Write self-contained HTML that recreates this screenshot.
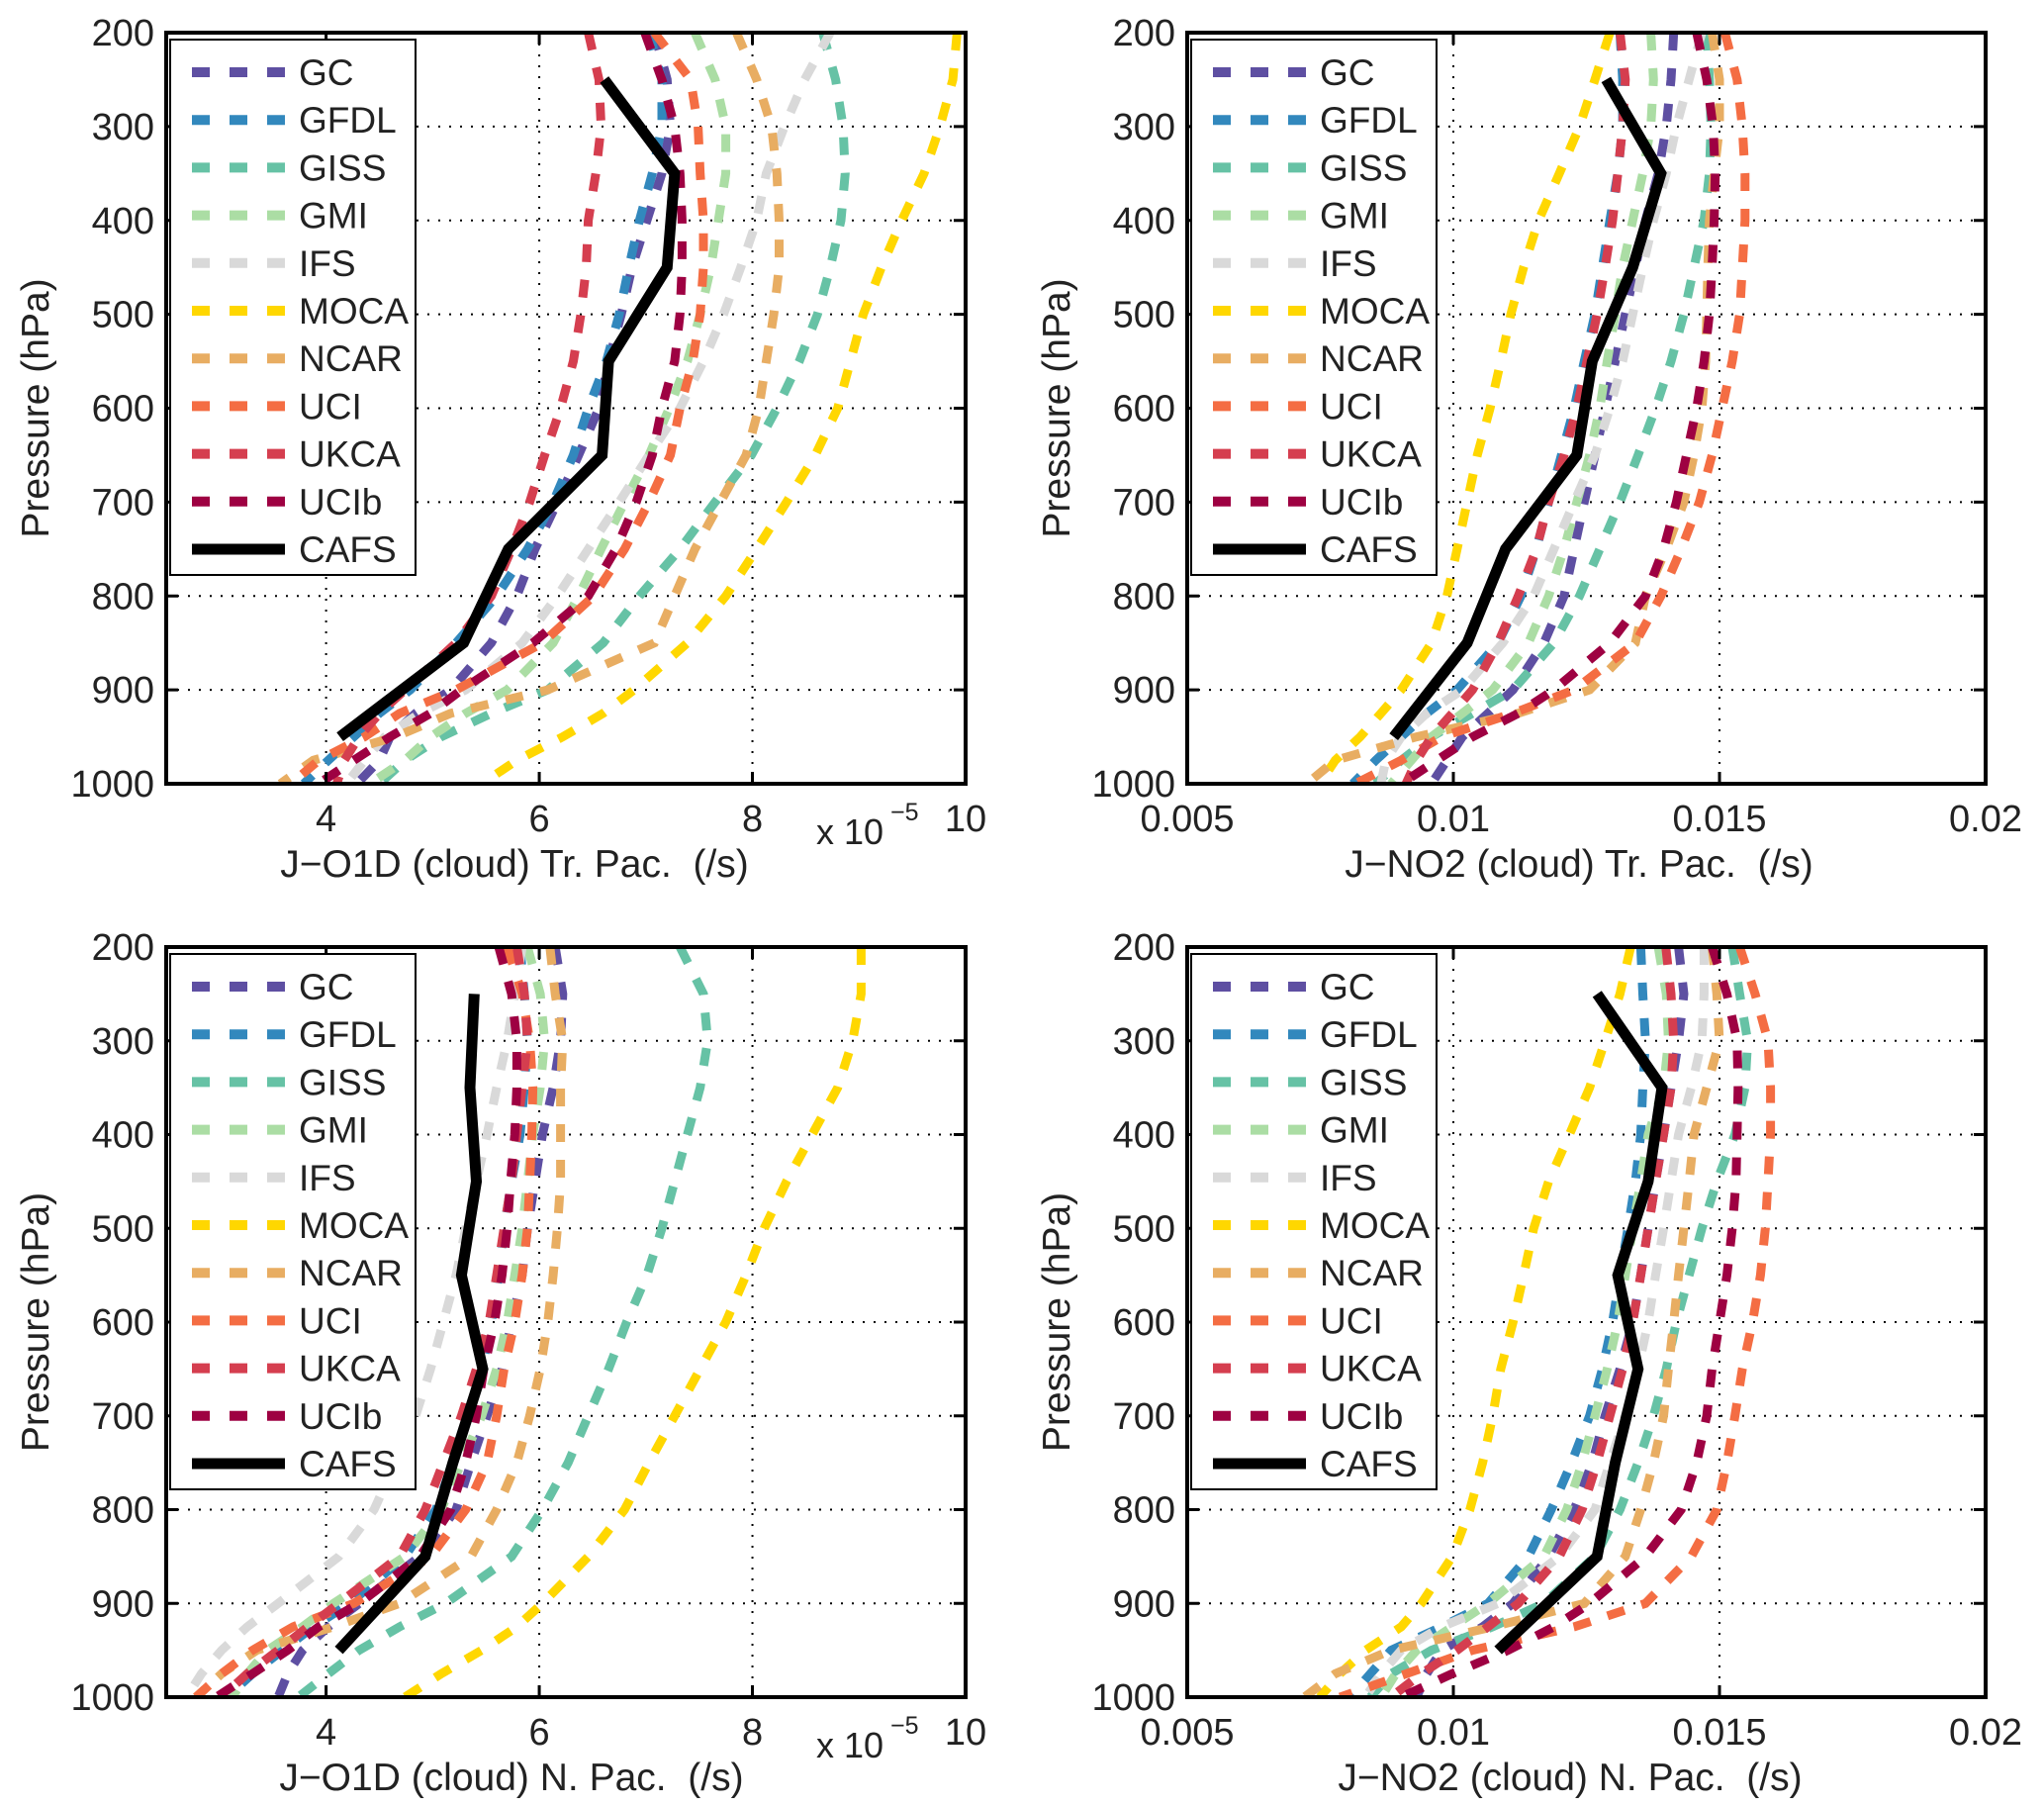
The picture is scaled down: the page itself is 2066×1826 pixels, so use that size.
<!DOCTYPE html>
<html><head><meta charset="utf-8">
<style>
html,body{margin:0;padding:0;background:#fff;}
svg{display:block;font-family:"Liberation Sans",Arial,sans-serif;}
</style></head>
<body>
<svg id="fig" width="2066" height="1826" viewBox="0 0 2066 1826" xmlns="http://www.w3.org/2000/svg"></svg>
<script>
const pressure = [200,250,300,350,400,450,500,550,600,650,700,750,800,850,900,925,950,975,1000];
const cafsP = [250,350,450,550,650,750,850,950];
const yTicks = [200,300,400,500,600,700,800,900,1000];
const o1dTicks = [4,6,8,10];
const no2Ticks = [0.005,0.01,0.015,0.02];
const no2TickLabels = ["0.005","0.01","0.015","0.02"];
const models = ["GC","GFDL","GISS","GMI","IFS","MOCA","NCAR","UCI","UKCA","UCIb"];
const colors = ["#5e4fa2","#3288bd","#66c2a5","#abdda4","#d9d9d9","#ffd700","#e8ad62","#f46d43","#d53e4f","#9e0142"];

const o1dTr_GC   = [7.08,7.20,7.23,7.15,7.01,6.87,6.77,6.65,6.56,6.37,6.17,5.96,5.79,5.55,5.17,4.84,4.60,4.50,4.29];
const o1dTr_GFDL = [7.03,7.15,7.15,7.06,6.94,6.84,6.75,6.63,6.46,6.32,6.13,5.89,5.60,5.22,4.79,4.50,4.26,4.02,3.79];
const o1dTr_GISS = [8.66,8.78,8.85,8.87,8.83,8.73,8.61,8.44,8.23,7.99,7.65,7.32,6.94,6.60,6.08,5.55,5.08,4.74,4.50];
const o1dTr_GMI  = [7.46,7.65,7.75,7.75,7.68,7.61,7.51,7.39,7.22,7.03,6.80,6.58,6.37,6.13,5.70,5.31,4.98,4.74,4.41];
const o1dTr_IFS  = [8.73,8.49,8.30,8.13,8.04,7.89,7.73,7.54,7.32,7.03,6.75,6.46,6.17,5.84,5.31,4.88,4.55,4.36,4.19];
const o1dTr_MOCA = [9.92,9.88,9.76,9.61,9.40,9.21,9.04,8.92,8.80,8.59,8.32,8.04,7.75,7.39,6.89,6.60,6.22,5.79,5.46];
const o1dTr_NCAR = [7.85,8.04,8.18,8.23,8.25,8.25,8.20,8.13,8.06,7.94,7.70,7.46,7.27,7.08,6.08,5.17,4.65,3.88,3.57];
const o1dTr_UCI  = [7.08,7.42,7.49,7.51,7.54,7.54,7.51,7.44,7.32,7.23,7.03,6.80,6.51,6.03,5.22,4.69,4.36,3.93,3.67];
const o1dTr_UKCA = [6.46,6.56,6.58,6.53,6.46,6.44,6.39,6.32,6.20,6.05,5.91,5.74,5.55,5.22,4.74,4.50,4.31,4.17,4.10];
const o1dTr_UCIb = [6.99,7.15,7.27,7.32,7.34,7.34,7.32,7.27,7.15,7.06,6.91,6.72,6.46,5.94,5.27,4.98,4.60,4.26,3.93];
const o1dTr_CAFS = [6.61,7.27,7.20,6.65,6.59,5.71,5.29,4.13];

const no2Tr_GC   = [14.14,14.09,14.00,13.85,13.61,13.42,13.23,13.04,12.85,12.66,12.46,12.27,12.08,11.70,11.12,10.65,10.17,9.88,9.59];
const no2Tr_GFDL = [13.13,13.18,13.18,13.09,12.94,12.80,12.66,12.46,12.27,12.03,11.79,11.56,11.27,10.84,10.07,9.50,9.02,8.54,8.11];
const no2Tr_GISS = [14.76,14.81,14.84,14.81,14.71,14.52,14.33,14.09,13.80,13.47,13.13,12.75,12.37,11.89,11.12,10.36,9.59,9.02,8.54];
const no2Tr_GMI  = [13.71,13.76,13.71,13.56,13.37,13.18,13.04,12.89,12.75,12.56,12.32,12.08,11.79,11.41,10.74,10.17,9.59,9.21,8.83];
const no2Tr_IFS  = [14.67,14.43,14.19,14.00,13.76,13.56,13.37,13.18,12.94,12.66,12.27,11.89,11.51,10.93,10.17,9.50,9.02,8.73,8.64];
const no2Tr_MOCA = [12.94,12.66,12.37,11.99,11.60,11.32,11.08,10.89,10.69,10.45,10.26,10.07,9.88,9.59,9.02,8.64,8.25,7.78,7.49];
const no2Tr_NCAR = [14.86,15.00,15.00,14.90,14.81,14.78,14.76,14.74,14.67,14.52,14.33,14.00,13.61,13.42,12.56,11.22,9.31,7.78,7.25];
const no2Tr_UCI  = [15.10,15.33,15.43,15.48,15.48,15.43,15.38,15.24,15.05,14.86,14.62,14.28,13.90,13.42,12.27,11.12,9.78,9.02,8.16];
const no2Tr_UKCA = [13.13,13.23,13.18,13.09,12.99,12.85,12.70,12.51,12.32,12.08,11.79,11.56,11.22,10.84,10.36,9.98,9.59,9.31,9.11];
const no2Tr_UCIb = [14.57,14.76,14.88,14.92,14.90,14.86,14.81,14.71,14.57,14.38,14.19,13.95,13.61,12.94,11.89,11.22,10.36,9.69,9.02];
const no2Tr_CAFS = [12.87,13.90,13.37,12.61,12.32,10.98,10.26,8.88];

const o1dN_GC   = [6.15,6.22,6.20,6.13,6.03,5.96,5.89,5.84,5.74,5.65,5.51,5.36,5.22,4.88,4.31,4.02,3.78,3.64,3.55];
const o1dN_GFDL = [5.82,5.86,5.89,5.86,5.82,5.74,5.67,5.62,5.55,5.46,5.34,5.19,5.03,4.74,4.22,3.88,3.59,3.31,3.07];
const o1dN_GISS = [7.32,7.54,7.58,7.51,7.39,7.27,7.15,7.01,6.82,6.65,6.46,6.27,6.03,5.74,5.12,4.69,4.31,4.02,3.74];
const o1dN_GMI  = [5.89,6.01,6.05,6.01,5.94,5.89,5.84,5.77,5.70,5.60,5.46,5.27,5.08,4.74,4.07,3.78,3.45,3.26,3.12];
const o1dN_IFS  = [5.84,5.77,5.70,5.60,5.51,5.41,5.31,5.22,5.10,4.98,4.84,4.65,4.45,4.12,3.55,3.26,3.02,2.83,2.69];
const o1dN_MOCA = [9.02,9.02,8.94,8.80,8.56,8.32,8.11,7.94,7.75,7.51,7.27,7.03,6.80,6.46,6.03,5.79,5.46,5.08,4.74];
const o1dN_NCAR = [6.10,6.15,6.22,6.20,6.20,6.20,6.17,6.13,6.08,6.01,5.91,5.79,5.60,5.36,4.69,4.07,3.35,3.02,2.78];
const o1dN_UCI  = [5.70,5.84,5.91,5.94,5.93,5.91,5.89,5.84,5.77,5.67,5.60,5.51,5.31,4.98,4.26,3.69,3.31,3.02,2.78];
const o1dN_UKCA = [5.79,5.86,5.89,5.84,5.79,5.74,5.67,5.60,5.53,5.41,5.27,5.10,4.93,4.69,4.12,3.83,3.55,3.26,3.02];
const o1dN_UCIb = [5.62,5.74,5.79,5.79,5.77,5.73,5.70,5.65,5.58,5.48,5.41,5.31,5.17,4.88,4.31,3.93,3.64,3.31,2.97];
const o1dN_CAFS = [5.39,5.35,5.41,5.27,5.47,5.19,4.93,4.12];

const no2N_GC   = [14.23,14.33,14.23,14.09,13.95,13.80,13.66,13.52,13.37,13.13,12.85,12.61,12.27,11.79,11.12,10.55,9.78,9.50,9.31];
const no2N_GFDL = [13.52,13.56,13.61,13.56,13.52,13.42,13.28,13.13,12.99,12.80,12.56,12.22,11.84,11.41,10.65,9.78,8.83,8.44,8.06];
const no2N_GISS = [15.24,15.38,15.53,15.48,15.29,14.95,14.67,14.43,14.19,14.00,13.76,13.47,13.13,12.66,11.70,10.74,9.59,8.83,8.44];
const no2N_GMI  = [13.85,14.00,14.04,13.95,13.66,13.52,13.37,13.23,13.09,12.89,12.66,12.42,12.13,11.70,10.65,9.98,9.31,8.92,8.64];
const no2N_IFS  = [14.71,14.71,14.67,14.47,14.23,14.09,13.95,13.80,13.66,13.47,13.23,12.94,12.66,11.99,10.84,9.78,9.02,8.64,8.35];
const no2N_MOCA = [13.33,13.13,12.85,12.56,12.18,11.79,11.51,11.32,11.12,10.89,10.74,10.55,10.31,9.98,9.40,9.02,8.35,7.87,7.49];
const no2N_NCAR = [14.86,14.95,15.00,14.76,14.52,14.43,14.33,14.23,14.14,14.04,13.95,13.76,13.52,13.23,12.46,10.74,8.83,7.78,7.20];
const no2N_UCI  = [15.38,15.67,15.91,15.96,15.96,15.91,15.86,15.77,15.62,15.43,15.29,15.14,14.95,14.47,13.61,12.27,10.36,9.12,7.87];
const no2N_UKCA = [13.99,14.09,14.14,14.09,13.95,13.80,13.66,13.52,13.37,13.18,12.94,12.70,12.42,11.99,11.22,10.65,10.07,9.40,8.83];
const no2N_UCIb = [14.86,15.14,15.33,15.35,15.33,15.31,15.24,15.14,15.00,14.86,14.76,14.57,14.28,13.61,12.56,11.89,11.03,9.98,9.02];
const no2N_CAFS = [12.70,13.92,13.66,13.09,13.47,13.04,12.70,10.84];

const NS = "http://www.w3.org/2000/svg";
const svg = document.getElementById("fig");
function mk(tag, attrs, parent){
  const e = document.createElementNS(NS, tag);
  for (const k in attrs) e.setAttribute(k, attrs[k]);
  (parent||svg).appendChild(e);
  return e;
}

function panel(opt){
  const L=opt.left, T=opt.top, W=opt.w, H=opt.h, R=L+W, B=T+H;
  const g = mk("g",{});
  
  
  const xs = v => L + (v - opt.xmin)/(opt.xmax-opt.xmin)*W;
  const ys = p => T + (p - 200)/800*H;
  const grid = mk("g",{},g);
  
  
  opt.xticks.forEach(t=>{
    const x = xs(t);
    if (x>L+3 && x<R-3) mk("line",{x1:x,y1:T,x2:x,y2:B,stroke:"#000","stroke-width":2,"stroke-dasharray":"2 9"},grid);
  });
  yTicks.forEach(p=>{
    const y = ys(p);
    if (y>T+3 && y<B-3) mk("line",{x1:L,y1:y,x2:R,y2:y,stroke:"#000","stroke-width":2,"stroke-dasharray":"2 9"},grid);
  });
  const cid = "clip"+opt.name;
  const cp = mk("clipPath",{id:cid},g);
  mk("rect",{x:L,y:T,width:W,height:H},cp);
  const sg = mk("g",{"clip-path":"url(#"+cid+")"},g);
  opt.series.forEach((arr,i)=>{
    const d = arr.map((v,j)=>(j?"L":"M")+xs(v*opt.scale).toFixed(1)+","+ys(pressure[j]).toFixed(1)).join(" ");
    const path = mk("path",{d:d,fill:"none",stroke:colors[i],"stroke-width":9,"stroke-dasharray":"18 18"},sg);
    
    
  });
  const dc = opt.cafs.map((v,j)=>(j?"L":"M")+xs(v*opt.scale).toFixed(1)+","+ys(cafsP[j]).toFixed(1)).join(" ");
  const cafsPath = mk("path",{d:dc,fill:"none",stroke:"#000","stroke-width":11,"stroke-linejoin":"miter"},sg);
  
  
  const fr = mk("rect",{x:L,y:T,width:W,height:H,fill:"none",stroke:"#000","stroke-width":4},g);
  
  
  opt.xticks.forEach((t,i)=>{
    const x = xs(t);
    mk("line",{x1:x,y1:B,x2:x,y2:B-12,stroke:"#000","stroke-width":3},g);
    mk("line",{x1:x,y1:T,x2:x,y2:T+12,stroke:"#000","stroke-width":3},g);
    const tx = mk("text",{x:x,y:B+48,"font-size":38,"text-anchor":"middle",fill:"#222"},g);
    tx.textContent = opt.xlabels[i];
    
    
  });
  yTicks.forEach(p=>{
    const y = ys(p);
    mk("line",{x1:L,y1:y,x2:L+12,y2:y,stroke:"#000","stroke-width":3},g);
    mk("line",{x1:R,y1:y,x2:R-12,y2:y,stroke:"#000","stroke-width":3},g);
    const tx = mk("text",{x:L-12,y:y+13,"font-size":38,"text-anchor":"end",fill:"#222"},g);
    tx.textContent = p;
    
    
  });
  const xt = mk("text",{x:opt.titleX,y:B+94,"font-size":39,"text-anchor":"middle",fill:"#222"},g);
  xt.textContent = opt.xtitle;
  
  
  const yl = mk("text",{x:0,y:0,"font-size":39,"text-anchor":"middle",fill:"#222",transform:"translate("+(L-119)+","+(T+H/2)+") rotate(-90)"},g);
  yl.textContent = "Pressure (hPa)";
  
  
  if (opt.exp){
    const ex = mk("text",{x:R-151,y:B+61,"font-size":36,fill:"#222"},g);
    ex.textContent = "x 10";
    
    
    const ex2 = mk("text",{x:R-76,y:B+37,"font-size":25,fill:"#222"},g);
    ex2.textContent = "\u22125";
    
    
  }
  const lg = mk("g",{},g);
  
  
  mk("rect",{x:L+4,y:T+7,width:248,height:541,fill:"#fff",stroke:"#000","stroke-width":2},lg);
  const names = models.concat(["CAFS"]);
  names.forEach((n,i)=>{
    const y = T+40+i*48.2;
    const ent = mk("g",{},lg);
    
    
    if (i<10) mk("line",{x1:L+26,y1:y,x2:L+120,y2:y,stroke:colors[i],"stroke-width":10,"stroke-dasharray":"18 20"},ent);
    else mk("line",{x1:L+26,y1:y,x2:L+120,y2:y,stroke:"#000","stroke-width":11},ent);
    const t = mk("text",{x:L+134,y:y+13,"font-size":37,fill:"#222"},ent);
    t.textContent = n;
  });
}

panel({name:"panel-o1d-tropical",left:168,top:33,w:808,h:759,xmin:2.5,xmax:10,scale:1,xticks:o1dTicks,xlabels:["4","6","8","10"],
  series:[o1dTr_GC,o1dTr_GFDL,o1dTr_GISS,o1dTr_GMI,o1dTr_IFS,o1dTr_MOCA,o1dTr_NCAR,o1dTr_UCI,o1dTr_UKCA,o1dTr_UCIb],cafs:o1dTr_CAFS,
  xtitle:"J\u2212O1D (cloud) Tr. Pac. \u00a0(/s)",titleX:520,exp:true});
panel({name:"panel-no2-tropical",left:1200,top:33,w:807,h:759,xmin:0.005,xmax:0.02,scale:0.001,xticks:no2Ticks,xlabels:no2TickLabels,
  series:[no2Tr_GC,no2Tr_GFDL,no2Tr_GISS,no2Tr_GMI,no2Tr_IFS,no2Tr_MOCA,no2Tr_NCAR,no2Tr_UCI,no2Tr_UKCA,no2Tr_UCIb],cafs:no2Tr_CAFS,
  xtitle:"J\u2212NO2 (cloud) Tr. Pac. \u00a0(/s)",titleX:1596,exp:false});
panel({name:"panel-o1d-north",left:168,top:957,w:808,h:758,xmin:2.5,xmax:10,scale:1,xticks:o1dTicks,xlabels:["4","6","8","10"],
  series:[o1dN_GC,o1dN_GFDL,o1dN_GISS,o1dN_GMI,o1dN_IFS,o1dN_MOCA,o1dN_NCAR,o1dN_UCI,o1dN_UKCA,o1dN_UCIb],cafs:o1dN_CAFS,
  xtitle:"J\u2212O1D (cloud) N. Pac. \u00a0(/s)",titleX:517,exp:true});
panel({name:"panel-no2-north",left:1200,top:957,w:807,h:758,xmin:0.005,xmax:0.02,scale:0.001,xticks:no2Ticks,xlabels:no2TickLabels,
  series:[no2N_GC,no2N_GFDL,no2N_GISS,no2N_GMI,no2N_IFS,no2N_MOCA,no2N_NCAR,no2N_UCI,no2N_UKCA,no2N_UCIb],cafs:no2N_CAFS,
  xtitle:"J\u2212NO2 (cloud) N. Pac. \u00a0(/s)",titleX:1587,exp:false});
</script>
</body></html>
